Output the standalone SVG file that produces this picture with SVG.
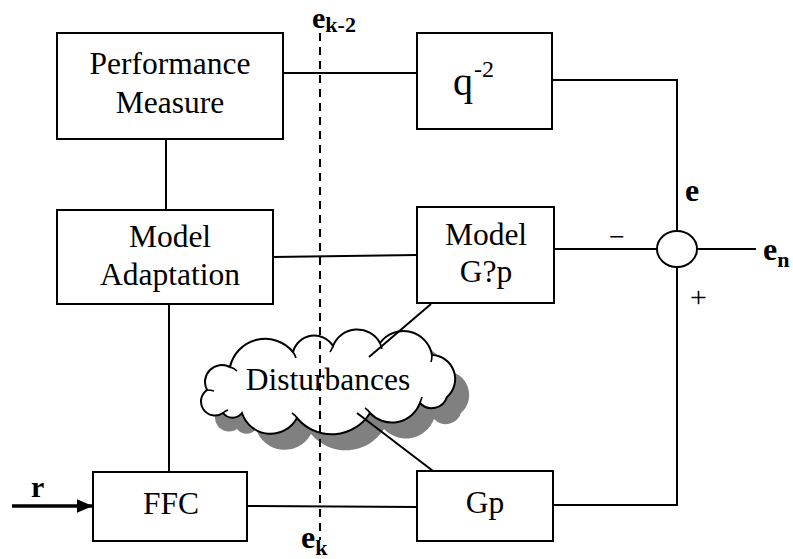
<svg xmlns="http://www.w3.org/2000/svg" width="793" height="559" viewBox="0 0 793 559">
<style>
.box{fill:#fff;stroke:#000;stroke-width:2}
.ln{fill:none;stroke:#000;stroke-width:2}
.t{font-family:"Liberation Serif","Times New Roman",serif;font-size:31.5px;fill:#000;text-anchor:middle}
.b{font-family:"Liberation Serif","Times New Roman",serif;font-weight:bold;fill:#000}
</style>
<defs>
<marker id="arr" markerWidth="4.6" markerHeight="4" refX="4.4" refY="2" orient="auto" markerUnits="strokeWidth">
<path d="M0,0 L4.6,2 L0,4 z" fill="#000"/>
</marker>
<path id="cloudShape" d="M223,413 A14,14 0 0 1 207,390 A17,17 0 0 1 230,367 A36,36 0 0 1 293,352 A22,22 0 0 1 333,346 A26,26 0 0 1 380,343 A29,29 0 0 1 432,355 A24,24 0 0 1 447,397 A16,16 0 0 1 420,403 A30,30 0 0 1 370,413 A45,45 0 0 1 297,418 A30,30 0 0 1 242,413 A12,12 0 0 1 223,413 Z"/>
</defs>
<rect width="793" height="559" fill="#fff"/>
<g id="disturbances">
<use href="#cloudShape" transform="translate(14,16)" fill="#808080" stroke="none"/>
<use href="#cloudShape" fill="#fff" stroke="#000" stroke-width="2"/>
<path d="M230,367 q4,1 7,4 M293,352 q2,3 3,6 M333,346 q-1,3 -3,6 M380,343 q1,3 2,6 M432,355 q0,4 -1,7 M420,403 q1,-3 2,-6 M370,413 q-2,-3 -5,-5 M297,418 q-2,-3 -5,-5 M223,413 q2,-2 5,-3 M207,390 q4,0 7,1" fill="none" stroke="#000" stroke-width="1.6"/>
<text class="t" x="328" y="390">Disturbances</text>
</g>
<g id="connectors">
<line class="ln" x1="283" y1="73" x2="417" y2="73"/>
<polyline class="ln" points="552,80 677,80 677,231"/>
<line class="ln" x1="166" y1="139" x2="166" y2="210"/>
<line class="ln" x1="273" y1="257" x2="417" y2="255"/>
<line class="ln" x1="554" y1="249" x2="657" y2="249"/>
<line class="ln" x1="697" y1="249" x2="756" y2="249"/>
<polyline class="ln" points="553,505 677,505 677,267"/>
<line class="ln" x1="169" y1="304" x2="169" y2="472"/>
<line class="ln" x1="247" y1="506" x2="417" y2="507"/>
<line class="ln" x1="431" y1="304" x2="369" y2="357"/>
<line class="ln" x1="357" y1="413" x2="433" y2="471"/>
<line x1="12" y1="506" x2="92" y2="506" stroke="#000" stroke-width="3.5" marker-end="url(#arr)"/>
<line x1="320" y1="33" x2="320" y2="540" stroke="#000" stroke-width="2" stroke-dasharray="8,6"/>
</g>
<g id="perf">
<rect class="box" x="57" y="33" width="226" height="106"/>
<text class="t" x="170" y="74">Performance</text>
<text class="t" x="170" y="113">Measure</text>
</g>
<g id="delay">
<rect class="box" x="417" y="33" width="135" height="96"/>
<text font-family="Liberation Serif, serif" font-size="40" x="453" y="95">q</text>
<text font-family="Liberation Serif, serif" font-size="24" x="474" y="77">-2</text>
</g>
<g id="adapt">
<rect class="box" x="57" y="210" width="216" height="94"/>
<text class="t" x="170" y="247">Model</text>
<text class="t" x="170" y="285">Adaptation</text>
</g>
<g id="model">
<rect class="box" x="417" y="207" width="137" height="96"/>
<text class="t" x="486" y="245">Model</text>
<text class="t" x="486" y="282">G?p</text>
</g>
<g id="sum">
<ellipse cx="677" cy="249" rx="20" ry="18" fill="#fff" stroke="#000" stroke-width="2"/>
</g>
<g id="ffc">
<rect class="box" x="93" y="472" width="154" height="69"/>
<text class="t" x="171" y="514">FFC</text>
</g>
<g id="gp">
<rect class="box" x="417" y="471" width="136" height="70"/>
<text class="t" x="485" y="513">Gp</text>
</g>
<g id="labels">
<text class="b" font-size="30" x="312" y="28">e<tspan font-size="22" dy="4">k-2</tspan></text>
<text class="b" font-size="32" x="301" y="548">e<tspan font-size="22" dy="7">k</tspan></text>
<text class="b" font-size="30" x="31" y="497">r</text>
<text class="b" font-size="32" x="685" y="201">e</text>
<text class="b" font-size="32" x="763" y="260">e<tspan font-size="22" dy="7">n</tspan></text>
<text font-family="Liberation Serif, serif" font-size="28" x="609" y="246">−</text>
<text font-family="Liberation Serif, serif" font-size="30" x="690" y="307">+</text>
</g>
</svg>
